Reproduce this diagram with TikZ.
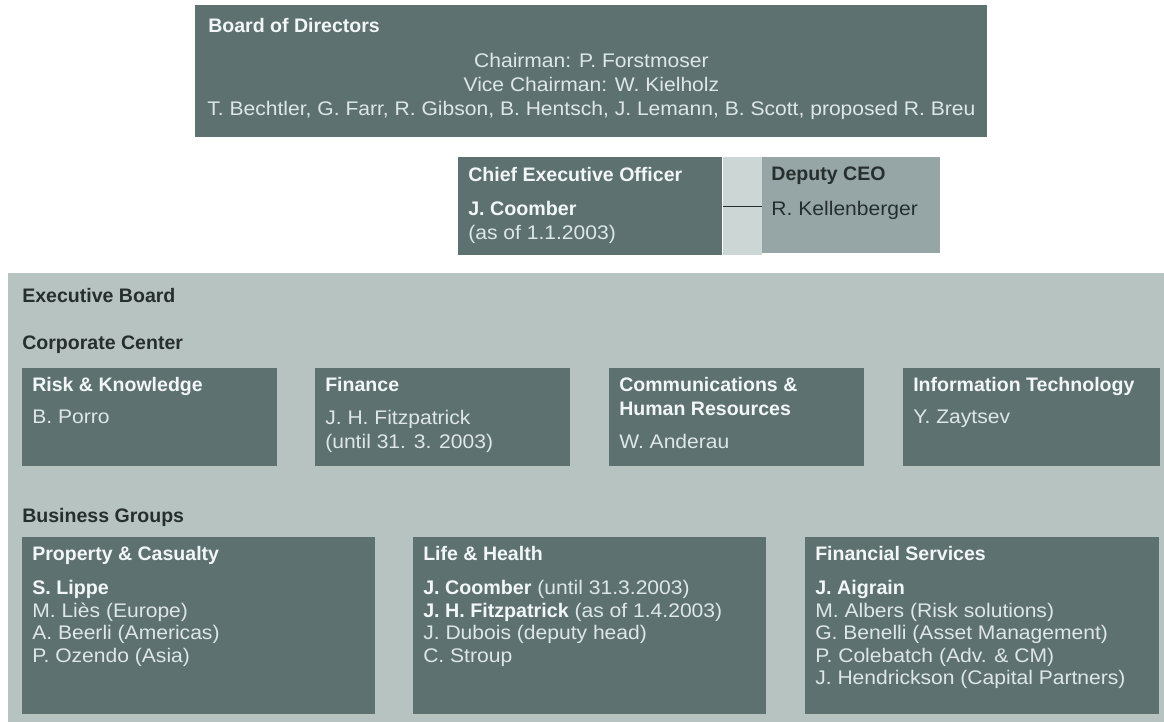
\documentclass[tikz,border=0pt]{standalone}
\usepackage{fontspec}
\setmainfont{Liberation Sans}[FakeStretch=1.07,BoldFeatures={FakeStretch=1.0}]
\usetikzlibrary{positioning}
\definecolor{boxdark}{RGB}{94,113,113}
\definecolor{boxmid}{RGB}{150,166,166}
\definecolor{boxlight}{RGB}{183,195,193}
\definecolor{gapgrey}{RGB}{204,214,212}
\definecolor{textwhite}{RGB}{242,246,246}
\definecolor{namewhite}{RGB}{222,230,230}
\definecolor{textdark}{RGB}{38,46,46}
\tikzset{
  darkbox/.style={fill=boxdark,draw=none,anchor=north west,inner sep=0pt},
  midbox/.style={fill=boxmid,draw=none,anchor=north west,inner sep=0pt},
  lightbox/.style={fill=boxlight,draw=none,anchor=north west,inner sep=0pt},
  boxtitle/.style={anchor=north west,inner sep=0pt,align=left,text=textwhite,
    font=\fontsize{13.9}{17}\selectfont\bfseries},
  boxbody/.style={anchor=north west,inner sep=0pt,align=left,text=namewhite,
    font=\fontsize{14}{17}\selectfont},
  grouplabel/.style={anchor=north west,inner sep=0pt,text=textdark,
    font=\fontsize{13.9}{16}\selectfont\bfseries},
  linkline/.style={draw=textdark,line width=0.9pt}
}
\begin{document}
\begin{tikzpicture}[x=0.025cm,y=-0.025cm]
\useasboundingbox (0,0) rectangle (1164,722);

% board of directors
\node[darkbox,minimum width=19.8cm,minimum height=3.3cm] (board) at (195,5) {};
\node[boxtitle] (boardT) at ([shift={(13,13)}]board.north west) {Board of Directors};
\node[boxbody,anchor=north,align=center] (boardM) at ([shift={(0,48)}]board.north)
  {Chairman: P. Forstmoser\\Vice Chairman: W. Kielholz\\
   T. Bechtler, G. Farr, R. Gibson, B. Hentsch, J. Lemann, B. Scott, proposed R. Breu};

% ceo and deputy
\node[darkbox,minimum width=6.6cm,minimum height=2.45cm] (ceo) at (458,157) {};
\node[lightbox,fill=gapgrey,minimum width=0.975cm,minimum height=2.45cm] (gap) at (ceo.north east) {};
\node[midbox,minimum width=4.425cm,minimum height=2.4cm] (deputy) at (gap.north east) {};
\node[boxtitle] (ceoT) at ([shift={(10,10)}]ceo.north west) {Chief Executive Officer};
\node[boxbody] (ceoN) at ([shift={(10,44)}]ceo.north west)
  {\textbf{\color{textwhite}J. Coomber}\\(as of 1.1.2003)};
\node[boxtitle,text=textdark] (deputyT) at ([shift={(9,10)}]deputy.north west) {Deputy CEO};
\node[boxbody,text=textdark] (deputyN) at ([shift={(9,44)}]deputy.north west) {R. Kellenberger};
\draw[linkline] (ceo.east) -- (ceo.east -| deputy.west);

% executive board
\node[lightbox,minimum width=28.9cm,minimum height=11.225cm] (exec) at (8,273) {};
\node[grouplabel] (execT) at ([shift={(14,15)}]exec.north west) {Executive Board};
\node[grouplabel] (corpT) at ([shift={(14,63)}]exec.north west) {Corporate Center};
\node[grouplabel] (busT) at ([shift={(14,235)}]exec.north west) {Business Groups};

% corporate center
\node[darkbox,minimum width=6.375cm,minimum height=2.45cm] (risk) at (22,368) {};
\node[darkbox,minimum width=6.375cm,minimum height=2.45cm] (finance) at (315,368) {};
\node[darkbox,minimum width=6.375cm,minimum height=2.45cm] (comm) at (609,368) {};
\node[darkbox,minimum width=6.425cm,minimum height=2.45cm] (infotech) at (903,368) {};
\node[boxtitle] (riskT) at ([shift={(10,9)}]risk.north west) {Risk \& Knowledge};
\node[boxbody] (riskN) at ([shift={(10,42)}]risk.north west) {B. Porro};
\node[boxtitle] (financeT) at ([shift={(10,9)}]finance.north west) {Finance};
\node[boxbody] (financeN) at ([shift={(10,42)}]finance.north west) {J. H. Fitzpatrick\\(until 31. 3. 2003)};
\node[boxtitle] (commT) at ([shift={(10,9)}]comm.north west) {Communications \&\\Human Resources};
\node[boxbody] (commN) at ([shift={(10,66)}]comm.north west) {W. Anderau};
\node[boxtitle] (infotechT) at ([shift={(10,9)}]infotech.north west) {Information Technology};
\node[boxbody] (infotechN) at ([shift={(10,42)}]infotech.north west) {Y. Zaytsev};

% business groups
\node[darkbox,minimum width=8.825cm,minimum height=4.425cm] (pc) at (22,537) {};
\node[darkbox,minimum width=8.825cm,minimum height=4.425cm] (lh) at (413,537) {};
\node[darkbox,minimum width=8.85cm,minimum height=4.425cm] (fs) at (805,537) {};
\node[boxtitle] (pcT) at ([shift={(10,9)}]pc.north west) {Property \& Casualty};
\node[boxbody,font=\fontsize{14}{16}\selectfont] (pcN) at ([shift={(10,43)}]pc.north west)
  {\textbf{\color{textwhite}S. Lippe}\\M. Liès (Europe)\\A. Beerli (Americas)\\P. Ozendo (Asia)};
\node[boxtitle] (lhT) at ([shift={(10,9)}]lh.north west) {Life \& Health};
\node[boxbody,font=\fontsize{14}{16}\selectfont] (lhN) at ([shift={(10,43)}]lh.north west)
  {\textbf{\color{textwhite}J. Coomber} (until 31.3.2003)\\\textbf{\color{textwhite}J. H. Fitzpatrick} (as of 1.4.2003)\\
   J. Dubois (deputy head)\\C. Stroup};
\node[boxtitle] (fsT) at ([shift={(10,9)}]fs.north west) {Financial Services};
\node[boxbody,font=\fontsize{14}{16}\selectfont] (fsN) at ([shift={(10,43)}]fs.north west)
  {\textbf{\color{textwhite}J. Aigrain}\\M. Albers (Risk solutions)\\G. Benelli (Asset Management)\\
   P. Colebatch (Adv. \& CM)\\J. Hendrickson (Capital Partners)};
\end{tikzpicture}
\end{document}
